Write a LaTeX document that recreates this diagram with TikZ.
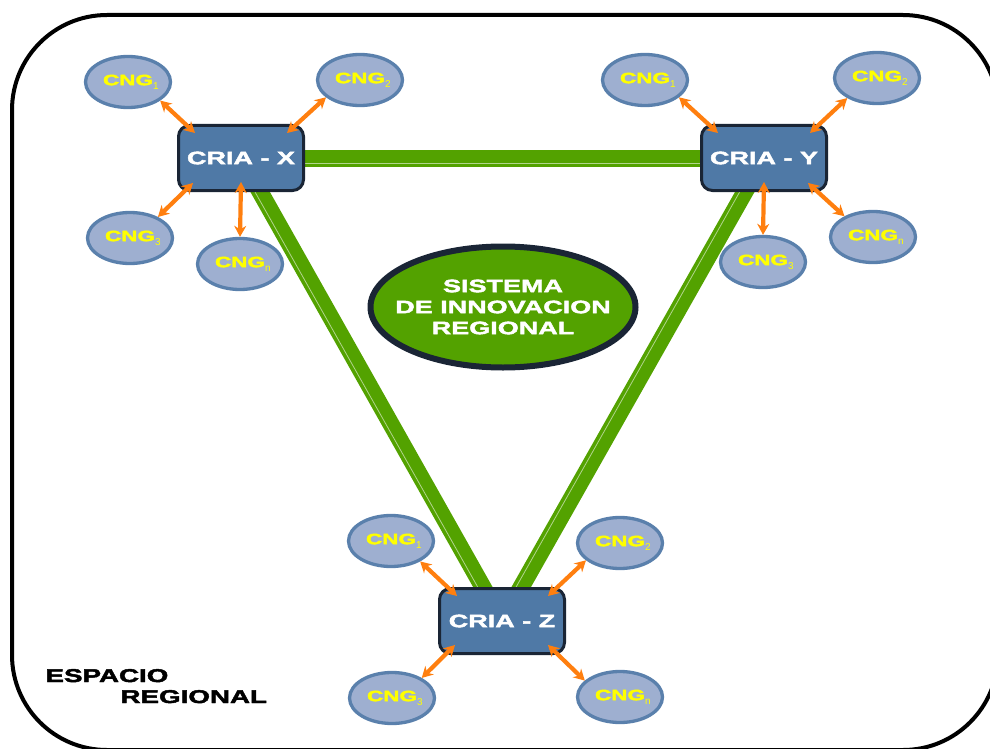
\documentclass[tikz,border=0pt]{standalone}
\usepackage{fontspec}
\setmainfont{Liberation Sans}
\newfontfamily\heavy{Liberation Sans}[UprightFont={* Bold}, FakeStretch=1.5, FakeBold=2.5]
\newfontfamily\thin{Liberation Sans}
\usetikzlibrary{shapes.geometric,arrows.meta,calc,backgrounds}
\definecolor{barg}{HTML}{53A200}
\definecolor{boxfill}{HTML}{4F79A6}
\definecolor{boxline}{HTML}{1A2535}
\definecolor{cngfill}{HTML}{9EAFD0}
\definecolor{cngline}{HTML}{5A80AC}
\definecolor{orng}{HTML}{FF7F0F}
\definecolor{ylw}{HTML}{FFFF00}
\newcommand\cnglab[1]{{\heavy\fontsize{15}{15}\selectfont CNG}\rlap{\raisebox{-4pt}{\thin\fontsize{10}{10}\selectfont #1}}}
\begin{document}
\begin{tikzpicture}[x=1pt,y=-1pt,
  cria/.style={rectangle, rounded corners=11pt, draw=boxline, fill=boxfill, line width=3pt,
    minimum width=125pt, minimum height=65pt, inner sep=0pt, text=white,
    font=\heavy\fontsize{18}{18}\selectfont},
  cng/.style={ellipse, draw=cngline, fill=cngfill, line width=3.3pt,
    minimum width=85pt, minimum height=51pt, inner sep=0pt, text=ylw},
  sir/.style={ellipse, draw=boxline, fill=barg, line width=6pt,
    minimum width=265pt, minimum height=121pt, inner sep=0pt},
  sirtext/.style={inner sep=0pt, text=white, align=center,
    font=\heavy\fontsize{18}{21}\selectfont},
  bar/.style={draw=barg, line width=17pt},
  hilite/.style={draw=white, opacity=0.55, line width=0.8pt},
  oarr/.style={draw=orng, line width=4.2pt,
    {Stealth[length=11pt,width=12pt]}-{Stealth[length=11pt,width=12pt]}},
  lbl/.style={anchor=base west, text=black, font=\heavy\fontsize{18.5}{18.5}\selectfont}
]
\useasboundingbox (0,0) rectangle (990,749);
\begin{scope}
  \clip (0,0) rectangle (990,749);
  \draw[line width=4pt, rounded corners=95pt] (12,15) rectangle (998,750);
\end{scope}

% central system
\node[sir] (sir) at (503,307) {};
\node[sirtext] (sirt) at (sir.center) {SISTEMA\\DE INNOVACION\\REGIONAL};

% CRIA boxes
\node[cria] (cx) at (241,158) {CRIA - X};
\node[cria] (cy) at (764,158) {CRIA - Y};
\node[cria] (cz) at (502,621) {CRIA - Z};

% green bars
\begin{pgfonlayer}{background}
  \draw[bar] (cx.center) -- (cy.center);
  \draw[bar] (cx.center) -- (cz.center);
  \draw[bar] (cy.center) -- (cz.center);
  \draw[hilite] ($(cx.center)+(0,5)$) -- ($(cy.center)+(0,5)$);
  \draw[hilite] ($(cx.center)+(-4,2)$) -- ($(cz.center)+(-4,2)$);
  \draw[hilite] ($(cy.center)+(-4,-2)$) -- ($(cz.center)+(-4,-2)$);
\end{pgfonlayer}

% CNG around X
\node[cng] (x1) at (128,82) {\cnglab{1}};
\node[cng] (x2) at (360,80) {\cnglab{2}};
\node[cng] (x3) at (130,238) {\cnglab{3}};
\node[cng] (xn) at (240,264) {\cnglab{n}};
% CNG around Y
\node[cng] (y1) at (645,80) {\cnglab{1}};
\node[cng] (y2) at (877,78) {\cnglab{2}};
\node[cng] (y3) at (763,262) {\cnglab{3}};
\node[cng] (yn) at (873,237) {\cnglab{n}};
% CNG around Z
\node[cng] (z1) at (391,541) {\cnglab{1}};
\node[cng] (z2) at (620,543) {\cnglab{2}};
\node[cng] (z3) at (392,698) {\cnglab{3}};
\node[cng] (zn) at (620,697) {\cnglab{n}};

% orange arrows
\draw[oarr] (x1.-30) -- ($(cx.north west)+(18,9)$);
\draw[oarr] (x2.207) -- ($(cx.north east)+(-18,9)$);
\draw[oarr] (x3.37) -- ($(cx.south west)+(16,-9)$);
\draw[oarr] (xn.90) -- ($(cx.south)+(0,-10)$);

\draw[oarr] (y1.-27) -- ($(cy.north west)+(18,9)$);
\draw[oarr] (y2.214) -- ($(cy.north east)+(-18,9)$);
\draw[oarr] (y3.90) -- ($(cy.south)+(0,-10)$);
\draw[oarr] (yn.144) -- ($(cy.south east)+(-20,-9)$);

\draw[oarr] (z1.-35) -- ($(cz.north west)+(19,9)$);
\draw[oarr] (z2.207) -- ($(cz.north east)+(-18,9)$);
\draw[oarr] (z3.34) -- ($(cz.south west)+(17,-10)$);
\draw[oarr] (zn.155) -- ($(cz.south east)+(-18,-10)$);

% label
\node[lbl] (esp) at (42,682) {ESPACIO};
\node[lbl] (reg) at (117,703) {REGIONAL};
\end{tikzpicture}
\end{document}
